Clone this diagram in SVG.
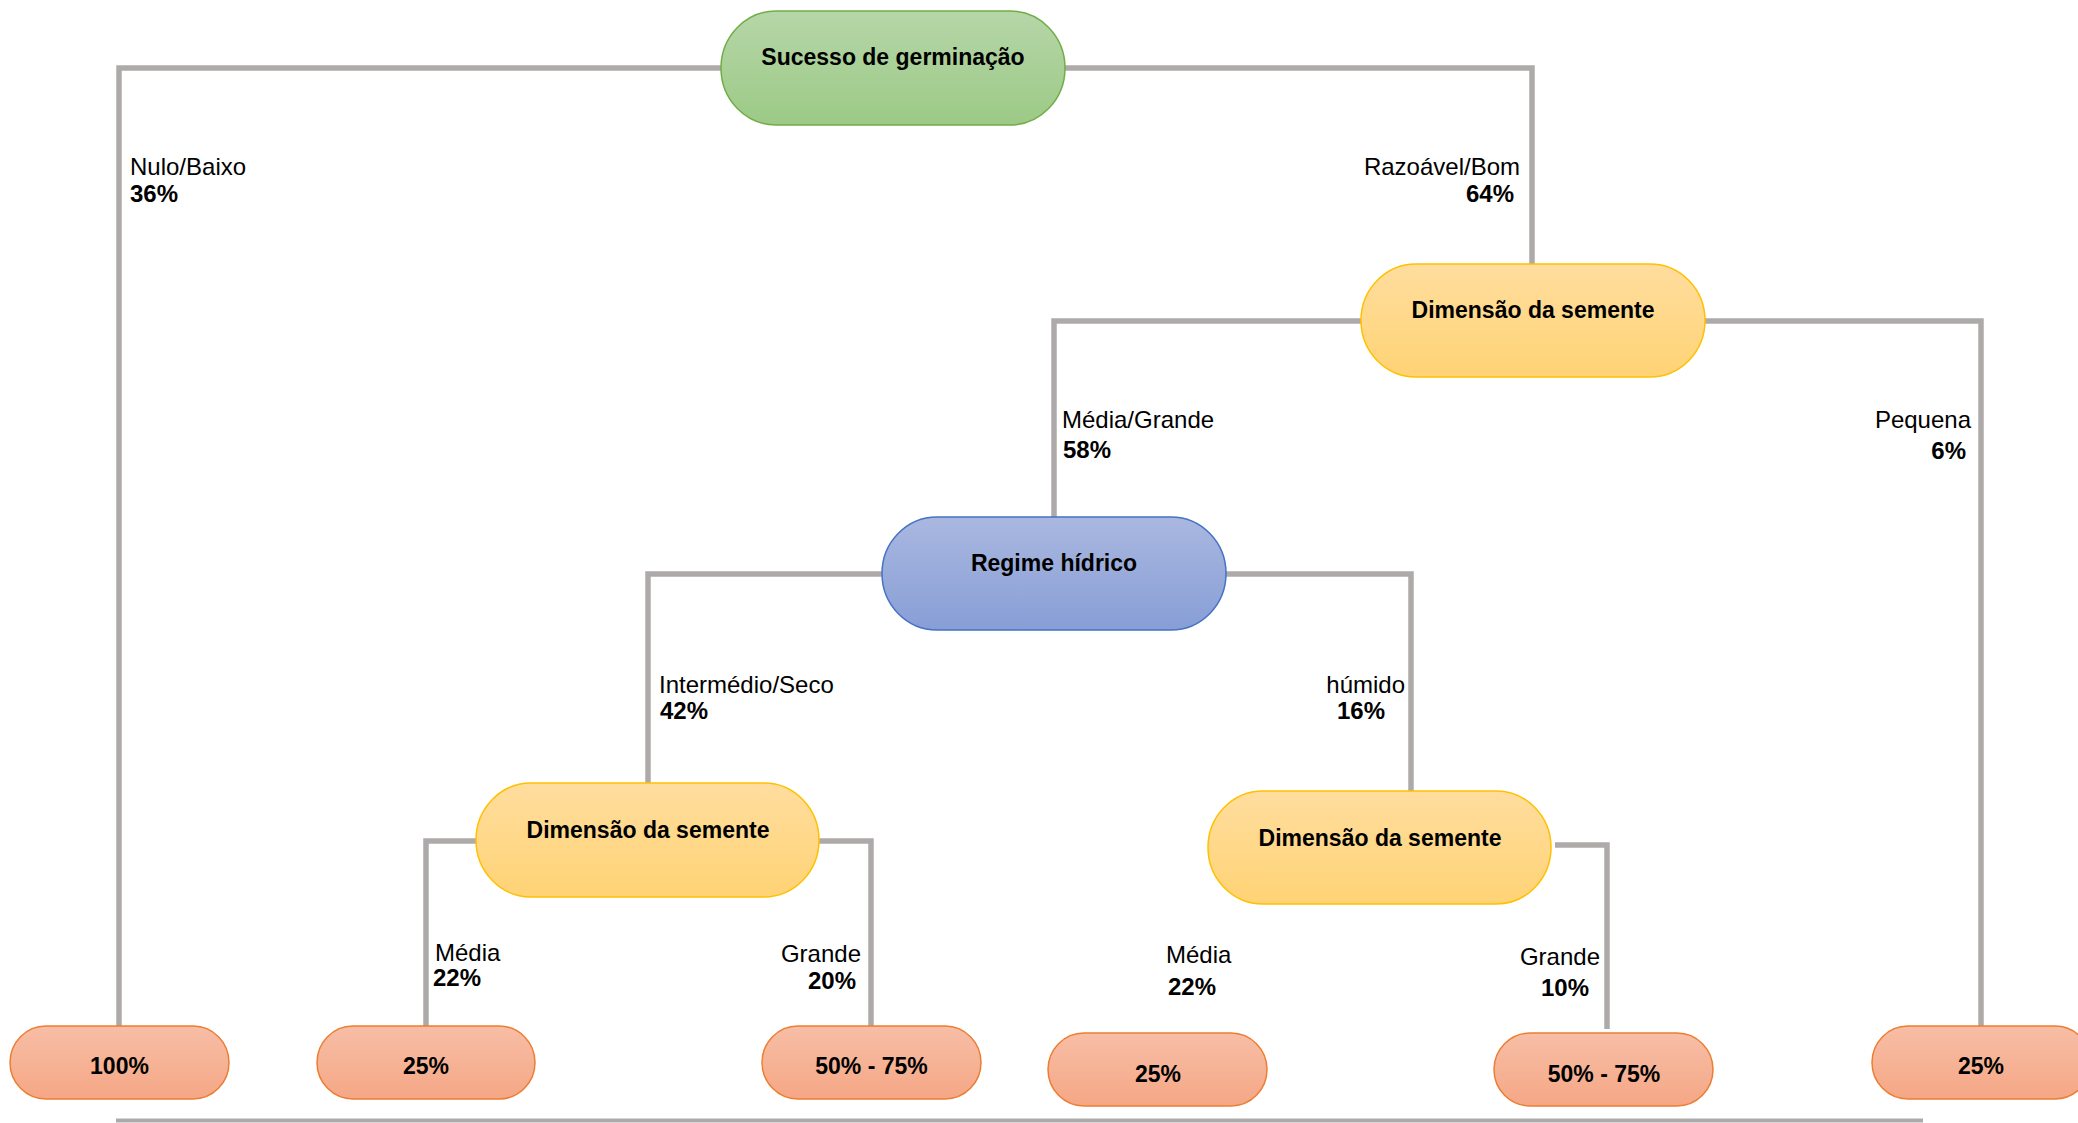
<svg xmlns="http://www.w3.org/2000/svg" width="2078" height="1123" viewBox="0 0 2078 1123">
<defs>
<linearGradient id="gGreen" x1="0" y1="0" x2="0" y2="1"><stop offset="0" stop-color="#B6D6A8"/><stop offset="1" stop-color="#9CCA86"/></linearGradient>
<linearGradient id="gYellow" x1="0" y1="0" x2="0" y2="1"><stop offset="0" stop-color="#FFDD9E"/><stop offset="1" stop-color="#FFD375"/></linearGradient>
<linearGradient id="gBlue" x1="0" y1="0" x2="0" y2="1"><stop offset="0" stop-color="#AAB8E0"/><stop offset="1" stop-color="#879ED6"/></linearGradient>
<linearGradient id="gOrange" x1="0" y1="0" x2="0" y2="1"><stop offset="0" stop-color="#F7BEA6"/><stop offset="1" stop-color="#F5A785"/></linearGradient>
</defs>
<style>
.conn{fill:none;stroke:#AEAAAA;stroke-width:5.5;stroke-linejoin:miter;stroke-linecap:butt}
.base{fill:none;stroke:#AEAAAA;stroke-width:4}
.green{fill:url(#gGreen);stroke:#70AD47;stroke-width:1.5}
.yellow{fill:url(#gYellow);stroke:#FFC000;stroke-width:1.5}
.blue{fill:url(#gBlue);stroke:#4472C4;stroke-width:1.5}
.orange{fill:url(#gOrange);stroke:#ED7D31;stroke-width:1.5}
.nt{font-family:"Liberation Sans",Arial,sans-serif;font-weight:bold;font-size:23px;fill:#000;text-anchor:middle}
.lt{font-family:"Liberation Sans",Arial,sans-serif;font-size:24px;fill:#000}
.lb{font-family:"Liberation Sans",Arial,sans-serif;font-size:24px;font-weight:bold;fill:#000}
.end{text-anchor:end}
</style>
<rect width="2078" height="1123" fill="#FFFFFF"/>
<g id="connectors">
<path class="conn" d="M721,68 H119 V1026"/>
<path class="conn" d="M1065,68 H1532 V264"/>
<path class="conn" d="M1361,321 H1054 V517"/>
<path class="conn" d="M1705,321 H1981 V1026"/>
<path class="conn" d="M882,574 H648 V783"/>
<path class="conn" d="M1226,574 H1411 V791"/>
<path class="conn" d="M476,841 H426 V1026"/>
<path class="conn" d="M819,841 H871 V1026"/>
<path class="conn" d="M1555,845 H1607 V1029"/>
<path class="base" d="M116,1120.5 H1923"/>
</g>
<g id="labels">
<text class="lt" x="130" y="175">Nulo/Baixo</text>
<text class="lb" x="130" y="202">36%</text>
<text class="lt end" x="1520" y="175">Razoável/Bom</text>
<text class="lb end" x="1514" y="202">64%</text>
<text class="lt" x="1062" y="428">Média/Grande</text>
<text class="lb" x="1063" y="458">58%</text>
<text class="lt end" x="1971" y="428">Pequena</text>
<text class="lb end" x="1966" y="459">6%</text>
<text class="lt" x="659" y="693">Intermédio/Seco</text>
<text class="lb" x="660" y="719">42%</text>
<text class="lt end" x="1405" y="693">húmido</text>
<text class="lb end" x="1385" y="719">16%</text>
<text class="lt" x="435" y="961">Média</text>
<text class="lb" x="433" y="986">22%</text>
<text class="lt end" x="861" y="962">Grande</text>
<text class="lb end" x="856" y="989">20%</text>
<text class="lt" x="1166" y="963">Média</text>
<text class="lb" x="1168" y="995">22%</text>
<text class="lt end" x="1600" y="965">Grande</text>
<text class="lb end" x="1589" y="996">10%</text>
</g>
<g id="n_root"><rect class="green" x="721" y="11" width="344" height="114" rx="55" ry="57"/><text class="nt" x="893" y="65">Sucesso de germinação</text></g>
<g id="n_dim1"><rect class="yellow" x="1361" y="264" width="344" height="113" rx="55" ry="56.5"/><text class="nt" x="1533" y="318">Dimensão da semente</text></g>
<g id="n_regime"><rect class="blue" x="882" y="517" width="344" height="113" rx="55" ry="56.5"/><text class="nt" x="1054" y="571">Regime hídrico</text></g>
<g id="n_dim2"><rect class="yellow" x="476" y="783" width="343" height="114" rx="55" ry="57"/><text class="nt" x="648" y="838">Dimensão da semente</text></g>
<g id="n_dim3"><rect class="yellow" x="1208" y="791" width="343" height="113" rx="55" ry="56.5"/><text class="nt" x="1380" y="846">Dimensão da semente</text></g>
<g id="leaf_1"><rect class="orange" x="10" y="1026" width="219" height="73" rx="36" ry="36.5"/><text class="nt" x="119.5" y="1074">100%</text></g>
<g id="leaf_2"><rect class="orange" x="317" y="1026" width="218" height="73" rx="36" ry="36.5"/><text class="nt" x="426" y="1074">25%</text></g>
<g id="leaf_3"><rect class="orange" x="762" y="1026" width="219" height="73" rx="36" ry="36.5"/><text class="nt" x="871.5" y="1074">50% - 75%</text></g>
<g id="leaf_4"><rect class="orange" x="1048" y="1033" width="219" height="73" rx="36" ry="36.5"/><text class="nt" x="1158" y="1082">25%</text></g>
<g id="leaf_5"><rect class="orange" x="1494" y="1033" width="219" height="73" rx="36" ry="36.5"/><text class="nt" x="1604" y="1082">50% - 75%</text></g>
<g id="leaf_6"><rect class="orange" x="1872" y="1026" width="219" height="73" rx="36" ry="36.5"/><text class="nt" x="1981" y="1074">25%</text></g>
</svg>
